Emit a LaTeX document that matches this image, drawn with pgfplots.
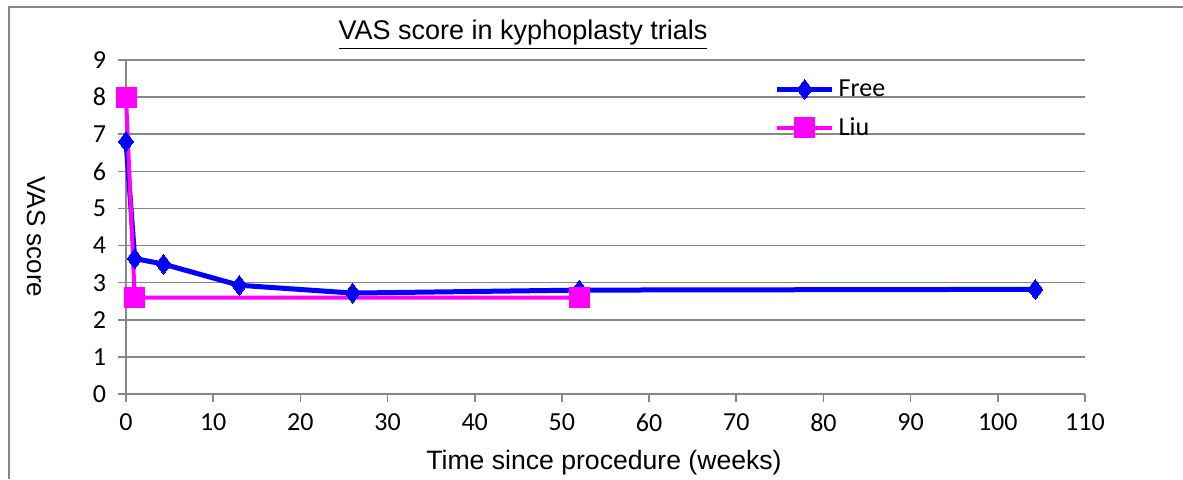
\documentclass[border=0pt]{standalone}
\usepackage{fontspec}
\setmainfont{Liberation Sans}
\newfontfamily\calibri{Carlito}
\usepackage{pgfplots}
\pgfplotsset{compat=1.18}
\definecolor{gridgray}{HTML}{878787}
\definecolor{fblue}{HTML}{0000FF}
\definecolor{lmag}{HTML}{FF00FF}
\begin{document}
\begin{tikzpicture}
\path[use as bounding box] (0,0) rectangle (591.5pt,239.5pt);
\draw[gridgray,line width=1pt] (4.5pt,0pt) -- (4.5pt,236pt) -- (591.5pt,236pt);
\begin{axis}[
  at={(63pt,42.5pt)}, anchor=south west,
  scale only axis, width=479.5pt, height=167pt,
  xmin=0, xmax=110, ymin=0, ymax=9,
  xtick={0,10,...,110}, ytick={0,1,...,9},
  axis x line*=bottom, axis y line*=left,
  axis line style={gridgray, line width=0.8pt, -},
  tick style={gridgray, line width=0.8pt},
  tick align=outside, major tick length=4pt,
  ymajorgrids, grid style={gridgray, line width=0.8pt},
  ticklabel style={font=\calibri\fontsize{13}{15}\selectfont},
  /pgf/number format/assume math mode=true,
  xticklabel style={yshift=-2.5pt},
  yticklabel style={xshift=-2.5pt},
  clip=false,
  legend style={at={(0.676,0.955)}, anchor=north west, draw=none, fill=none,
    font=\calibri\fontsize{13}{15}\selectfont, row sep=5pt, inner sep=0pt,
    /tikz/every even column/.append style={column sep=2pt}},
  legend cell align=left,
  legend image code/.code={\draw[mark repeat=2,mark phase=2,#1] plot coordinates {(0pt,0pt) (13.75pt,0pt) (27.5pt,0pt)};},
]
\addplot[fblue, line width=2.5pt, mark=diamond*, mark size=5pt, mark options={solid, line width=0pt}] coordinates {
 (0,6.8) (1,3.65) (4.3,3.5) (13,2.93) (26,2.72) (52,2.8) (104.3,2.82)
};
\addlegendentry{Free}
\addplot[lmag, line width=2pt, mark=square*, mark size=5pt, mark options={solid, line width=0pt}] coordinates {
 (0,8) (1,2.6) (52,2.6)
};
\addlegendentry{Liu}
\end{axis}
\node[font=\fontsize{13.5}{15}\selectfont] at (261.5pt,222pt) {\underline{VAS score in kyphoplasty trials}};
\node[font=\fontsize{13.3}{15}\selectfont] at (302pt,8pt) {Time since procedure (weeks)};
\node[font=\fontsize{13}{15}\selectfont, rotate=-90] at (18pt,121pt) {VAS score};
\end{tikzpicture}
\end{document}
